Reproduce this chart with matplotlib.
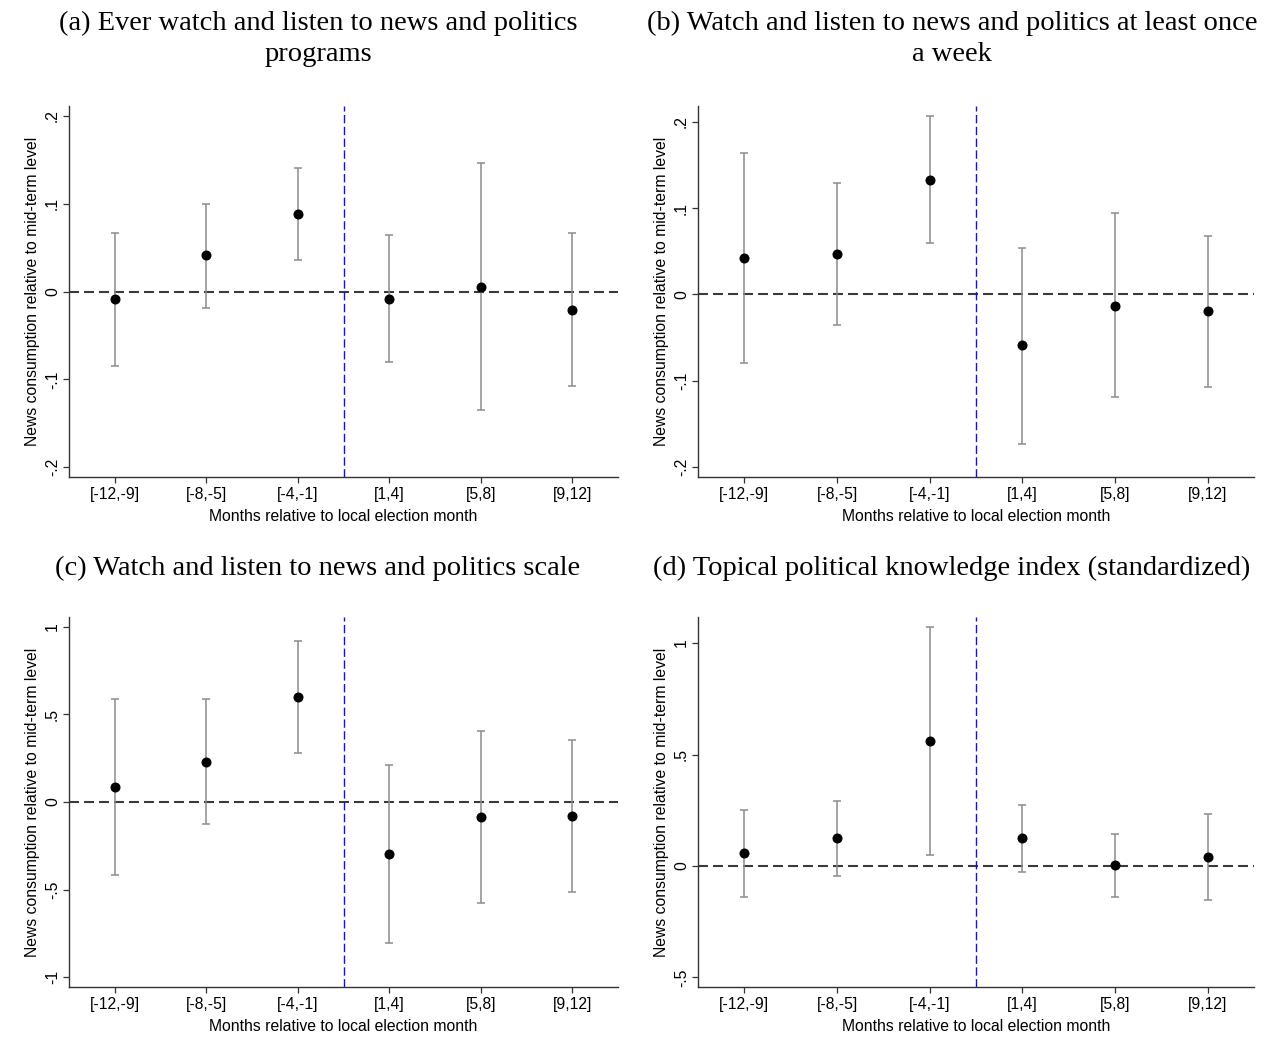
import numpy as np
import matplotlib
matplotlib.use('Agg')
import matplotlib.pyplot as plt

plt.rcParams['font.family'] = ['Liberation Sans', 'DejaVu Sans']

# month bins relative to local election month
bins = ['[-12,-9]', '[-8,-5]', '[-4,-1]', '[1,4]', '[5,8]', '[9,12]']

# (a) ever watch/listen
est_a = [-0.009, 0.041, 0.088, -0.008, 0.005, -0.021]
lo_a = [-0.085, -0.019, 0.036, -0.080, -0.135, -0.107]
hi_a = [0.067, 0.100, 0.141, 0.064, 0.146, 0.066]

# (b) at least once a week
est_b = [0.042, 0.047, 0.133, -0.059, -0.013, -0.019]
lo_b = [-0.079, -0.035, 0.060, -0.173, -0.119, -0.107]
hi_b = [0.164, 0.129, 0.207, 0.054, 0.095, 0.068]

# (c) scale
est_c = [0.086, 0.230, 0.597, -0.297, -0.086, -0.082]
lo_c = [-0.414, -0.125, 0.278, -0.802, -0.578, -0.515]
hi_c = [0.587, 0.587, 0.916, 0.213, 0.407, 0.352]

# (d) topical political knowledge
est_d = [0.058, 0.124, 0.561, 0.124, 0.003, 0.040]
lo_d = [-0.138, -0.043, 0.048, -0.025, -0.139, -0.151]
hi_d = [0.253, 0.292, 1.072, 0.272, 0.145, 0.232]

titles = ['(a) Ever watch and listen to news and politics\nprograms',
          '(b) Watch and listen to news and politics at least once\na week',
          '(c) Watch and listen to news and politics scale',
          '(d) Topical political knowledge index (standardized)']

yticks_ab = [-0.2, -0.1, 0, 0.1, 0.2]
ytlabels_ab = ['-.2', '-.1', '0', '.1', '.2']
yticks_c = [-1, -0.5, 0, 0.5, 1]
ytlabels_c = ['-1', '-.5', '0', '.5', '1']
yticks_d = [-0.5, 0, 0.5, 1]
ytlabels_d = ['-.5', '0', '.5', '1']

W, H = 1270, 1041
fig = plt.figure(figsize=(W / 100, H / 100), dpi=100)


def px_axes(x0, y0, x1, y1):
    return fig.add_axes([x0 / W, 1 - y1 / H, (x1 - x0) / W, (y1 - y0) / H])


def draw(ax, est, lo, hi, yt, ytl, ylim):
    x = np.arange(1, len(bins) + 1)
    est = np.array(est)
    err = [est - np.array(lo), np.array(hi) - est]
    ax.axhline(0, color='#3a3a3a', lw=1.5, ls=(0, (4.8, 2.4)), zorder=1)
    ax.axvline(3.5, color='#1010ee', lw=1.0, ls=(0, (6, 2.5)), zorder=1)
    ax.errorbar(x, est, yerr=err, fmt='none', ecolor='#8c8c8c', elinewidth=1.1,
                capsize=3, capthick=1.1, zorder=2)
    ax.plot(x, est, 'o', color='black', ms=6.2, zorder=3)
    ax.set_xlim(0.5, 6.5)
    ax.set_ylim(*ylim)
    ax.set_xticks(x)
    ax.set_xticklabels(bins, fontsize=11.3)
    ax.set_yticks(yt)
    ax.set_yticklabels(ytl, fontsize=11.3, rotation=90, va='center')
    for s in ['top', 'right']:
        ax.spines[s].set_visible(False)
    for s in ['left', 'bottom']:
        ax.spines[s].set_color('#333333')
        ax.spines[s].set_linewidth(1.0)
    ax.tick_params(length=4, width=0.9, color='#333333', pad=3)
    ax.tick_params(axis='y', pad=2.5)
    ax.set_xlabel('Months relative to local election month', fontsize=11.3, labelpad=5)
    ax.set_ylabel('News consumption relative to mid-term level', fontsize=11.3)
    ax.yaxis.set_label_coords(-0.052, 0.5)


ax_a = px_axes(69, 106, 618, 477)
ax_b = px_axes(698, 106, 1254, 477)
ax_c = px_axes(69, 617, 618, 987)
ax_d = px_axes(698, 617, 1254, 987)

draw(ax_a, est_a, lo_a, hi_a, yticks_ab, ytlabels_ab, (-0.211, 0.211))
draw(ax_b, est_b, lo_b, hi_b, yticks_ab, ytlabels_ab, (-0.2116, 0.2185))
draw(ax_c, est_c, lo_c, hi_c, yticks_c, ytlabels_c, (-1.055, 1.055))
draw(ax_d, est_d, lo_d, hi_d, yticks_d, ytlabels_d, (-0.543, 1.117))

tkw = dict(family=['Liberation Serif', 'DejaVu Serif'], fontsize=20.5,
           ha='center', va='top', linespacing=1.32)
fig.text(318 / W, 1 - 11 / H, titles[0], **tkw)
fig.text(952 / W, 1 - 11 / H, titles[1], **tkw)
fig.text(318 / W, 1 - 556 / H, titles[2], **tkw)
fig.text(952 / W, 1 - 556 / H, titles[3], **tkw)

fig.savefig('out.png', dpi=100, facecolor='white')
